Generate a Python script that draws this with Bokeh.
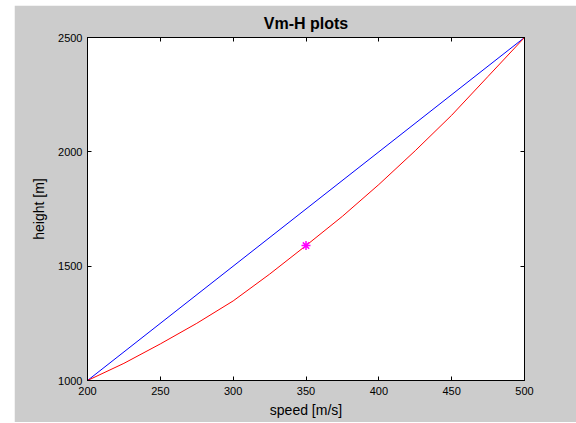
from bokeh.plotting import figure
from bokeh.models import Range1d, FixedTicker, LinearAxis, Spacer
from bokeh.layouts import column, row
from bokeh.embed import file_html
from bokeh.resources import INLINE

# ---- data ----
ref_speed = [200, 500]
ref_height = [1000, 2500]
speed = [200, 225, 250, 275, 300, 325, 350, 375, 400, 425, 450, 475, 500]
height = [1000, 1075, 1160, 1250, 1348, 1465, 1590, 1718, 1857, 2005, 2160, 2330, 2500]
mark_speed = [350]
mark_height = [1590]
x_ticks = [200, 250, 300, 350, 400, 450, 500]
y_ticks = [1000, 1500, 2000, 2500]

FONT = "Liberation Sans"
GRAY = "#cccccc"

p = figure(width=562, height=417, output_backend="svg", toolbar_location=None,
           x_range=Range1d(200, 500), y_range=Range1d(1000, 2500),
           title="Vm-H plots",
           background_fill_color="white", border_fill_color=GRAY,
           min_border_left=73, min_border_right=52,
           min_border_top=32, min_border_bottom=42)

p.grid.visible = False
p.outline_line_color = "black"
p.outline_line_width = 1

p.title.align = "center"
p.title.text_font = FONT
p.title.text_font_size = "16px"
p.title.text_font_style = "bold"
p.title.text_color = "black"
p.title.standoff = 12

def style_axis(ax, ticks, labels=True):
    ax.ticker = FixedTicker(ticks=ticks)
    ax.major_tick_in = 4
    ax.major_tick_out = 0
    ax.minor_tick_in = 0
    ax.minor_tick_out = 0
    ax.axis_line_color = "black"
    ax.major_tick_line_color = "black"
    ax.major_label_text_font = FONT
    ax.major_label_text_font_size = "11px"
    ax.major_label_text_color = "black"
    ax.axis_label_text_font = FONT
    ax.axis_label_text_font_size = "14px"
    ax.axis_label_text_font_style = "normal"
    ax.axis_label_text_color = "black"
    if not labels:
        ax.major_label_overrides = {t: "" for t in ticks}
        ax.major_label_standoff = 0

style_axis(p.xaxis[0], x_ticks)
style_axis(p.yaxis[0], y_ticks)
p.xaxis[0].axis_label = "speed [m/s]"
p.yaxis[0].axis_label = "height [m]"
p.xaxis[0].major_label_standoff = 6
p.yaxis[0].major_label_standoff = 5
p.xaxis[0].axis_label_standoff = 4
p.yaxis[0].axis_label_standoff = 8

top = LinearAxis()
style_axis(top, x_ticks, labels=False)
p.add_layout(top, "above")
right = LinearAxis()
style_axis(right, y_ticks, labels=False)
p.add_layout(right, "right")

p.line(ref_speed, ref_height, line_color="#0000ff", line_width=1)
p.line(speed, height, line_color="#ff0000", line_width=1)
p.scatter(mark_speed, mark_height, marker="asterisk", size=9,
          line_color="#ff00ff", line_width=1.5)

page = column(Spacer(height=5), row(Spacer(width=14), p))
open("out.html", "w").write(file_html(page, INLINE))
